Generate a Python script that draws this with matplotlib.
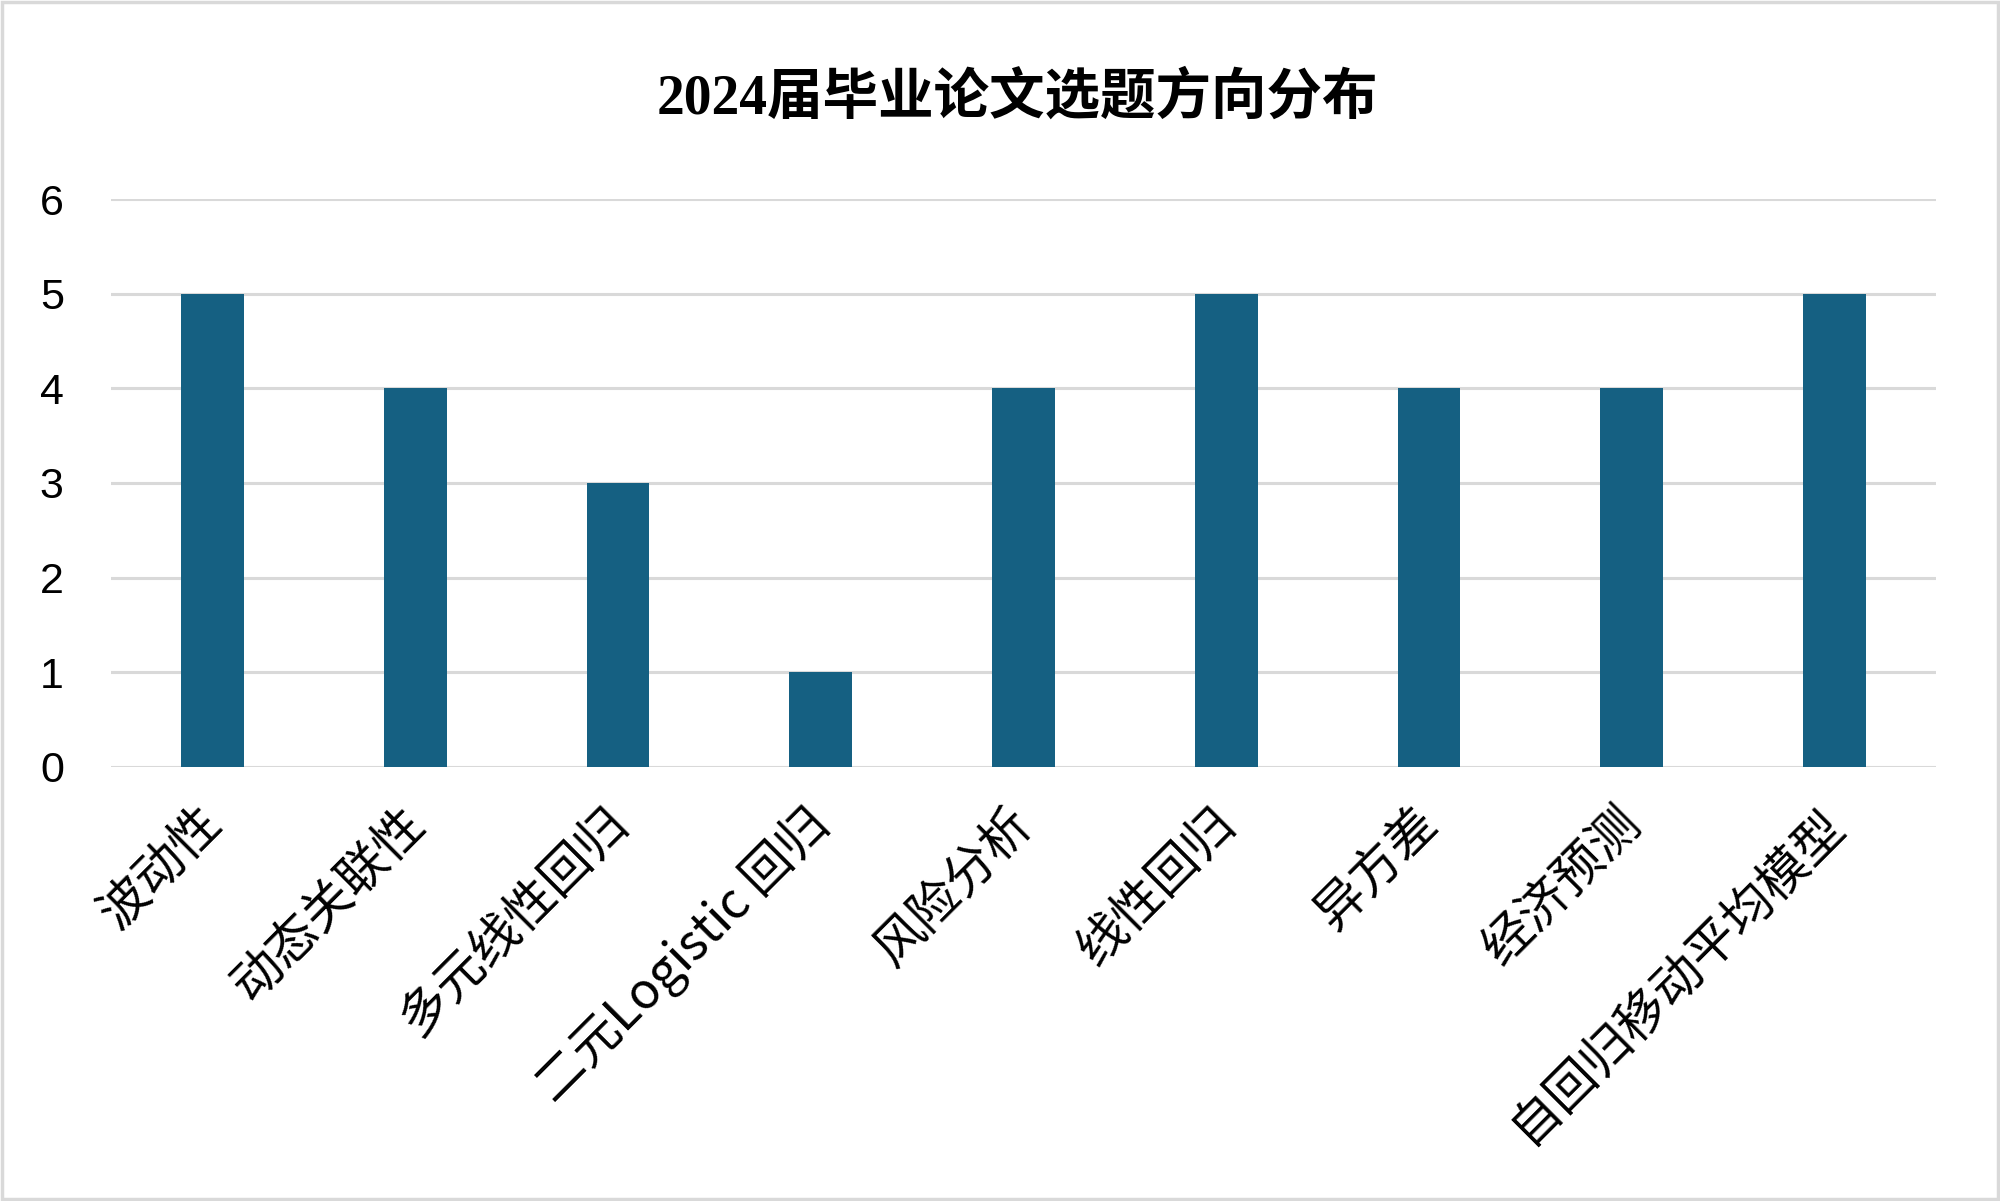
import matplotlib
matplotlib.use("Agg")
import matplotlib.pyplot as plt
import matplotlib.transforms as mtransforms
from matplotlib.patches import Rectangle

categories = ["波动性", "动态关联性", "多元线性回归", "二元Logistic 回归", "风险分析",
              "线性回归", "异方差", "经济预测", "自回归移动平均模型"]
counts = [5, 4, 3, 1, 4, 5, 4, 4, 5]
yticks = [0, 1, 2, 3, 4, 5, 6]
title = "2024届毕业论文选题方向分布"

plt.rcParams['font.family'] = ['Noto Sans CJK SC', 'DejaVu Sans']

fig = plt.figure(figsize=(20, 12.01), dpi=100)
ax = fig.add_axes([0.0555, 0.3614, 0.968 - 0.0555, 0.8343 - 0.3614])

x = list(range(len(categories)))
ax.bar(x, counts, width=0.31, color="#156082", zorder=3)
ax.set_xlim(-0.5, len(categories) - 0.5)
ax.set_ylim(0, 6)
ax.set_yticks(yticks)
ax.set_yticklabels([str(v) for v in yticks], fontsize=31, family=['Liberation Sans'])
ax.grid(axis='y', color="#d9d9d9", linewidth=2.2, zorder=0)
ax.set_axisbelow(True)
for s in ax.spines.values():
    s.set_visible(False)
ax.tick_params(axis='both', length=0)
ax.tick_params(axis='y', pad=34)
ax.tick_params(axis='x', pad=22)
ax.set_xticks(x)
ax.set_xticklabels(categories, rotation=45, ha='right', fontsize=36)
offset = mtransforms.ScaledTranslation(0.2, 0.0, fig.dpi_scale_trans)
for lbl in ax.get_xticklabels():
    lbl.set_transform(lbl.get_transform() + offset)

fig.text(0.5085, 0.918, title, ha='center', va='center', fontsize=40,
         family=['Liberation Serif', 'Noto Sans CJK SC'], weight='bold')

fig.patches.append(Rectangle((0.001, 0.002), 0.998, 0.996, transform=fig.transFigure,
                             fill=False, edgecolor="#d9d9d9", linewidth=2.5))

fig.savefig("out.png", dpi=100, facecolor='white')
